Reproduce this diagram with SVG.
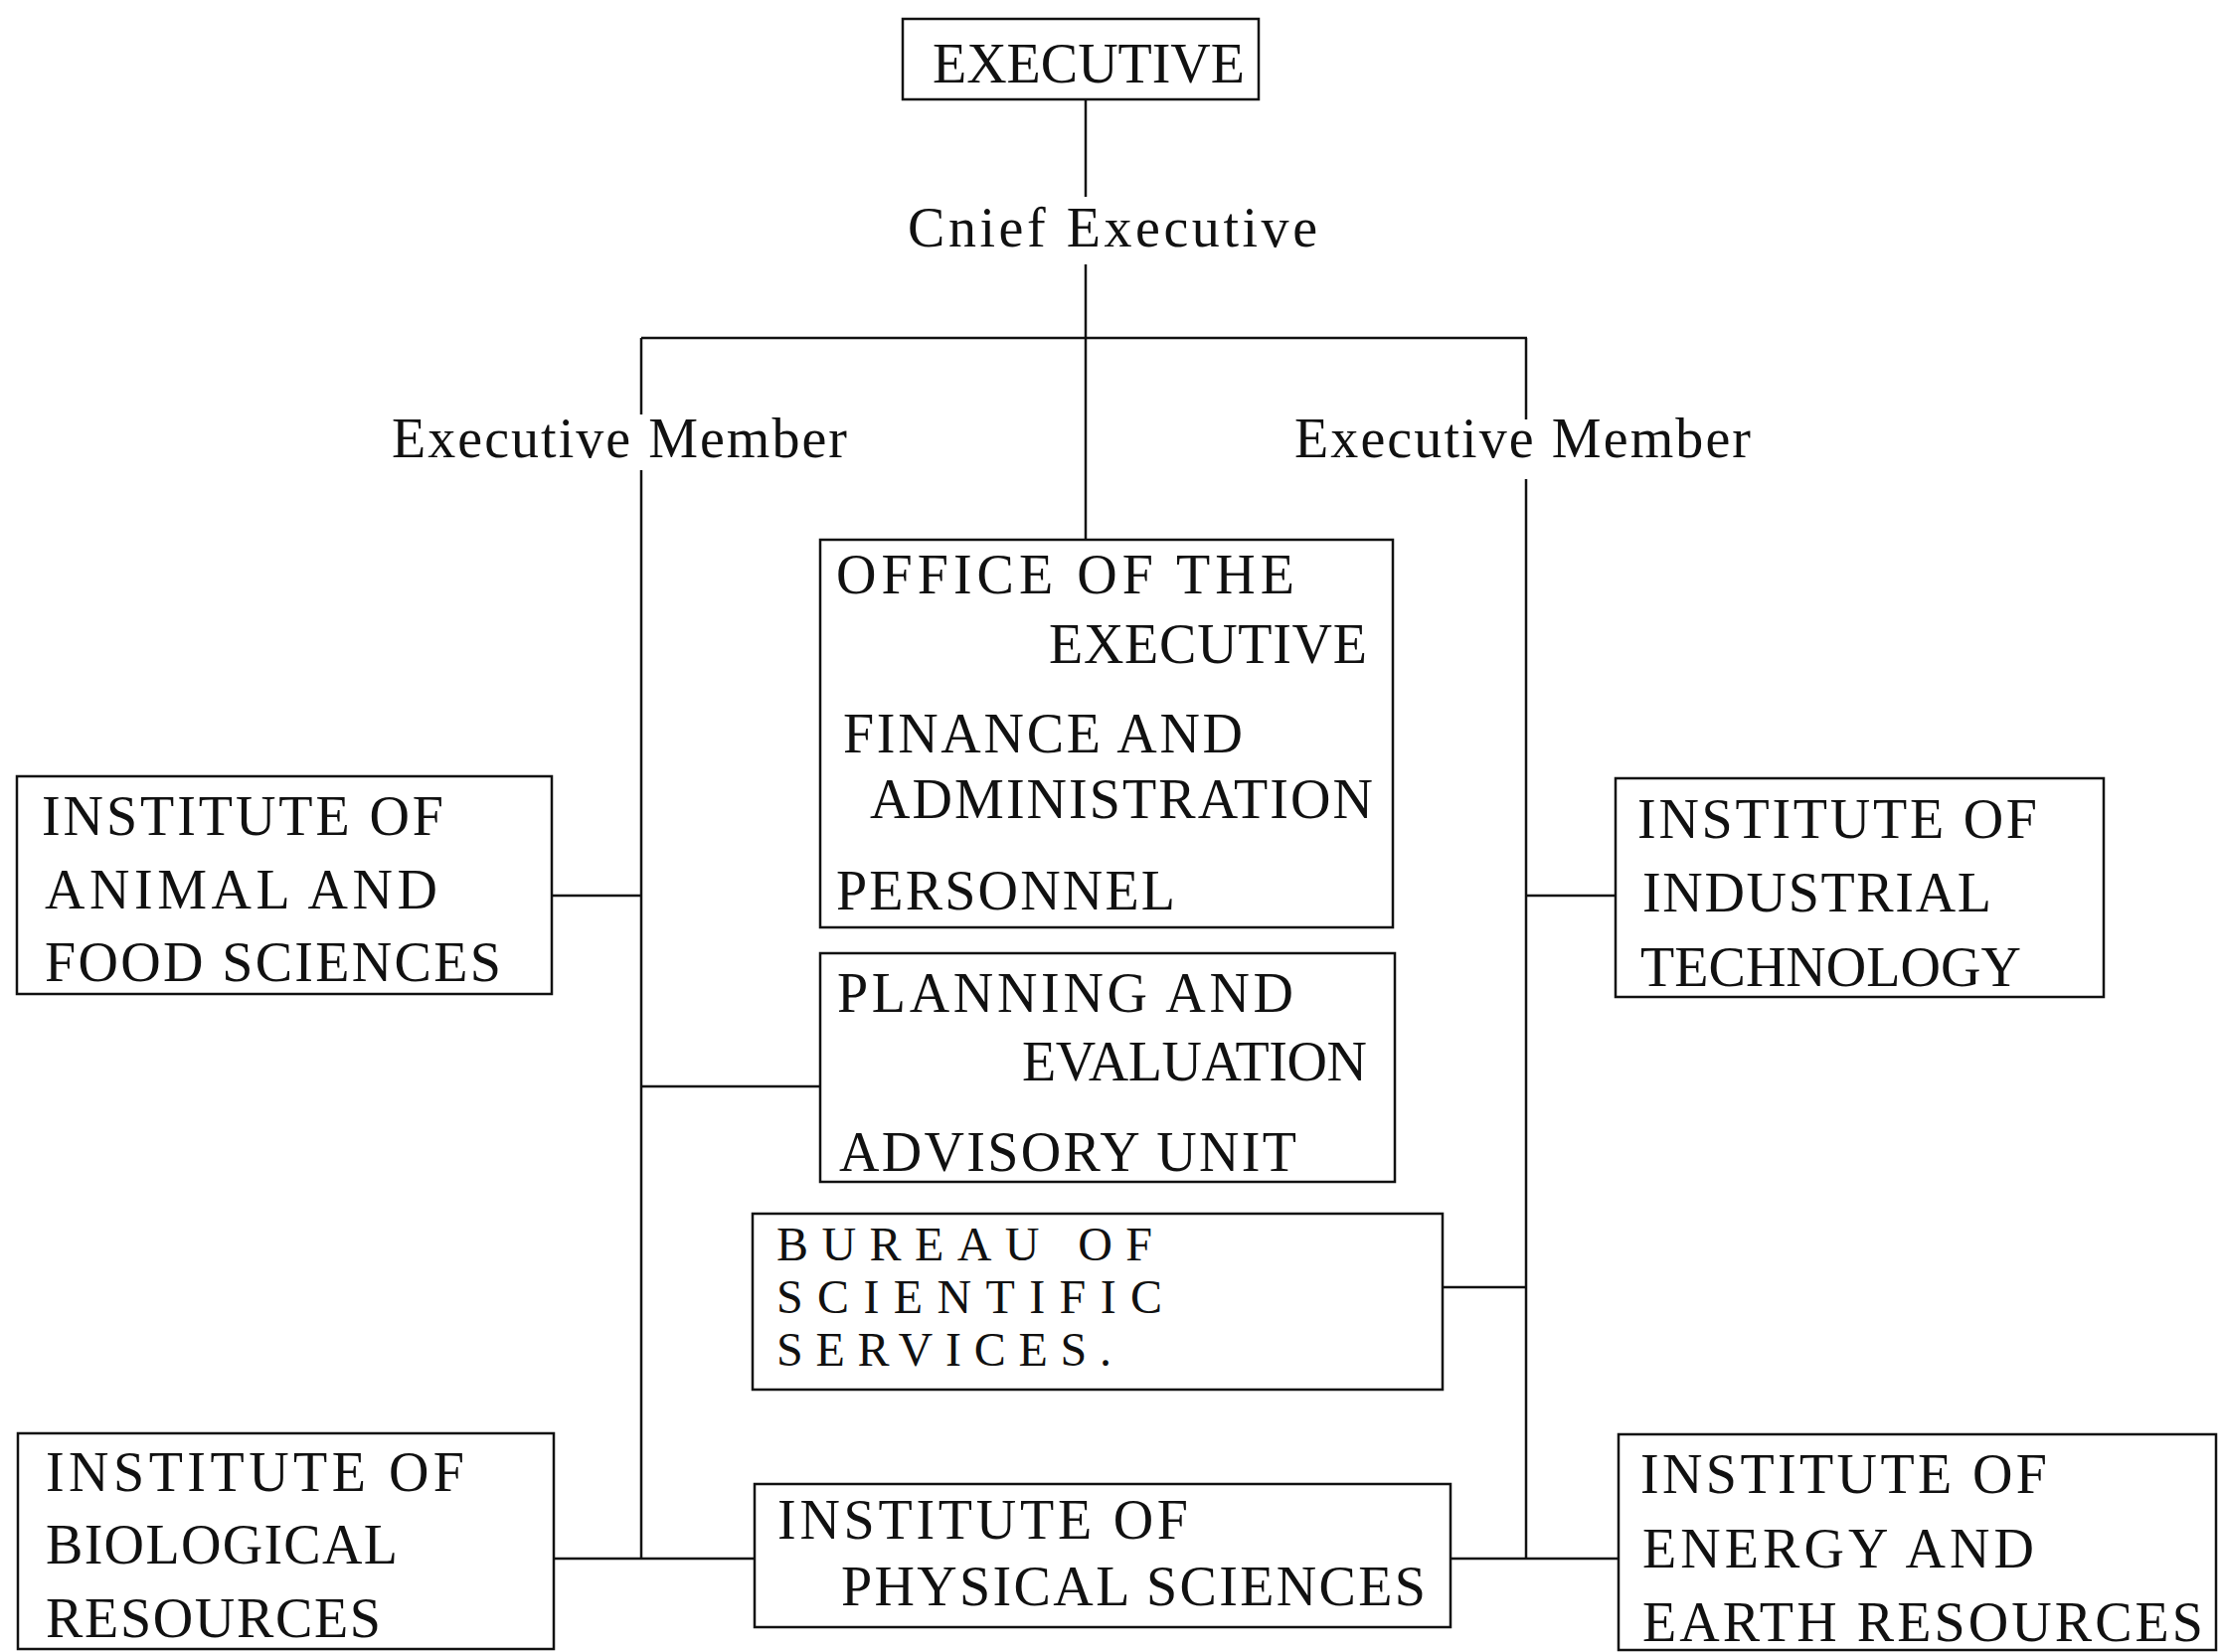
<svg xmlns="http://www.w3.org/2000/svg" width="2233" height="1662" viewBox="0 0 2233 1662">
<style>
.box{fill:none;stroke:#111;stroke-width:2.5}
.con{fill:none;stroke:#111;stroke-width:2.5}
text{font-family:"Liberation Serif","DejaVu Serif",serif;font-size:56px;fill:#111}
.tight{font-size:48px}
</style>
<rect width="2233" height="1662" fill="#fff"/>
<g id="connectors" class="con">
<path d="M1092 101V198M1092 266V543"/>
<path d="M645 340H1536"/>
<path d="M645 340V417M645 473V1568"/>
<path d="M1535 340V422M1535 482V1568"/>
<path d="M556 901H645"/>
<path d="M1535 901H1625"/>
<path d="M645 1093H825"/>
<path d="M1451 1295H1535"/>
<path d="M557 1568H759M1459 1568H1628"/>
</g>
<g id="label-chief"><text x="913" y="248" textLength="412" lengthAdjust="spacing">Cnief Executive</text></g>
<g id="label-member-left"><text x="394" y="460" textLength="458" lengthAdjust="spacing">Executive Member</text></g>
<g id="label-member-right"><text x="1302" y="460" textLength="459" lengthAdjust="spacing">Executive Member</text></g>
<g id="executive">
<rect class="box" x="908" y="19" width="358" height="81"/>
<text x="938" y="83" textLength="314" lengthAdjust="spacing">EXECUTIVE</text>
</g>
<g id="office">
<rect class="box" x="825" y="543" width="576" height="390"/>
<text x="841" y="597" textLength="461" lengthAdjust="spacing">OFFICE OF THE</text>
<text x="1055" y="667" textLength="320" lengthAdjust="spacing">EXECUTIVE</text>
<text x="848" y="757" textLength="402" lengthAdjust="spacing">FINANCE AND</text>
<text x="875" y="823" textLength="506" lengthAdjust="spacing">ADMINISTRATION</text>
<text x="841" y="915" textLength="341" lengthAdjust="spacing">PERSONNEL</text>
</g>
<g id="planning">
<rect class="box" x="825" y="959" width="578" height="230"/>
<text x="842" y="1018" textLength="459" lengthAdjust="spacing">PLANNING AND</text>
<text x="1028" y="1087" textLength="347" lengthAdjust="spacing">EVALUATION</text>
<text x="844" y="1178" textLength="460" lengthAdjust="spacing">ADVISORY UNIT</text>
</g>
<g id="bureau">
<rect class="box" x="757" y="1221" width="694" height="177"/>
<text class="tight" x="781" y="1268" textLength="378" lengthAdjust="spacing">BUREAU OF</text>
<text class="tight" x="781" y="1321" textLength="388" lengthAdjust="spacing">SCIENTIFIC</text>
<text class="tight" x="781" y="1374" textLength="337" lengthAdjust="spacing">SERVICES.</text>
</g>
<g id="physical">
<rect class="box" x="759" y="1493" width="700" height="144"/>
<text x="782" y="1548" textLength="413" lengthAdjust="spacing">INSTITUTE OF</text>
<text x="846" y="1615" textLength="588" lengthAdjust="spacing">PHYSICAL SCIENCES</text>
</g>
<g id="animal">
<rect class="box" x="17" y="781" width="538" height="219"/>
<text x="42" y="840" textLength="404" lengthAdjust="spacing">INSTITUTE OF</text>
<text x="45" y="914" textLength="395" lengthAdjust="spacing">ANIMAL AND</text>
<text x="45" y="987" textLength="459" lengthAdjust="spacing">FOOD SCIENCES</text>
</g>
<g id="industrial">
<rect class="box" x="1625" y="783" width="491" height="220"/>
<text x="1647" y="843" textLength="402" lengthAdjust="spacing">INSTITUTE OF</text>
<text x="1652" y="917" textLength="351" lengthAdjust="spacing">INDUSTRIAL</text>
<text x="1650" y="992" textLength="383" lengthAdjust="spacing">TECHNOLOGY</text>
</g>
<g id="biological">
<rect class="box" x="18" y="1442" width="539" height="217"/>
<text x="46" y="1500" textLength="421" lengthAdjust="spacing">INSTITUTE OF</text>
<text x="46" y="1573" textLength="354" lengthAdjust="spacing">BIOLOGICAL</text>
<text x="46" y="1647" textLength="337" lengthAdjust="spacing">RESOURCES</text>
</g>
<g id="energy">
<rect class="box" x="1628" y="1443" width="601" height="217"/>
<text x="1650" y="1502" textLength="409" lengthAdjust="spacing">INSTITUTE OF</text>
<text x="1652" y="1577" textLength="394" lengthAdjust="spacing">ENERGY AND</text>
<text x="1652" y="1651" textLength="564" lengthAdjust="spacing">EARTH RESOURCES</text>
</g>
</svg>
